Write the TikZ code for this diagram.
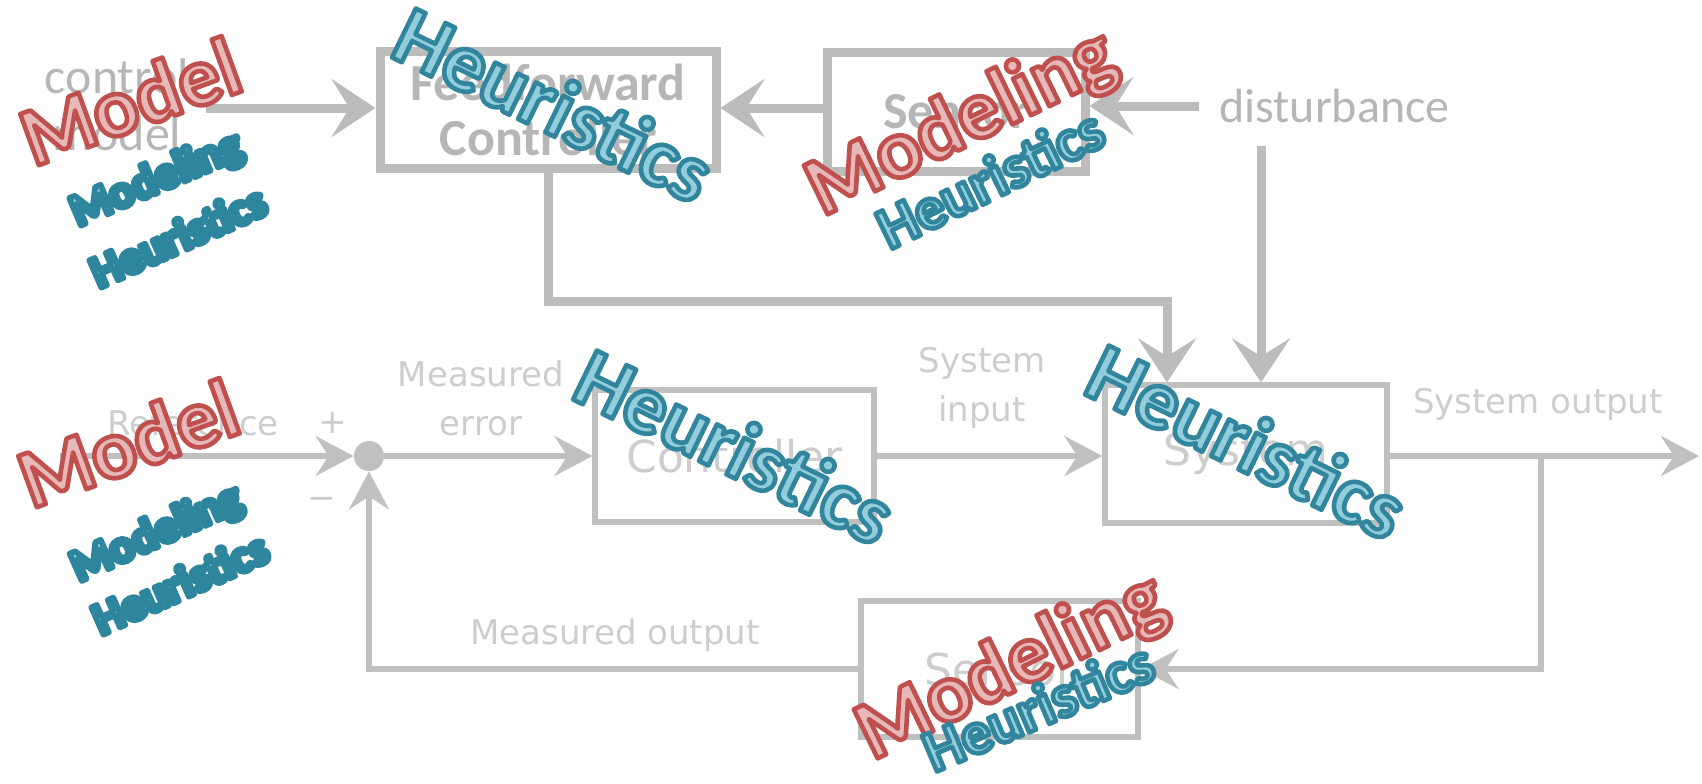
\documentclass[tikz,border=0pt]{standalone}
\usepackage{fontspec}
\setmainfont{Carlito}
\newfontfamily\dejavu{DejaVu Sans}
\usetikzlibrary{arrows.meta,positioning}
\definecolor{topgrey}{RGB}{188,188,188}
\definecolor{topfont}{RGB}{182,182,182}
\definecolor{botgrey}{RGB}{192,192,192}
\definecolor{botfont}{RGB}{205,205,205}
\definecolor{redfill}{RGB}{230,185,184}
\definecolor{tealfill}{RGB}{146,205,220}
\newcommand{\redword}[1]{\special{pdf:literal direct 2 Tr 2.3 w 1 j 0.753 0.314 0.302 RG}#1\special{pdf:literal direct 0 Tr}}
\newcommand{\tealword}[1]{\special{pdf:literal direct 2 Tr 2.3 w 1 j 0.192 0.522 0.612 RG}#1\special{pdf:literal direct 0 Tr}}
\newcommand{\tealsmall}[1]{\special{pdf:literal direct 2 Tr 2.9 w 1 j 0.180 0.525 0.620 RG}#1\special{pdf:literal direct 0 Tr}}
\tikzset{
  topbox/.style={draw=topgrey, line width=4.5pt, align=center, text=topfont,
    font=\fontsize{26}{27.5}\selectfont\bfseries},
  toptext/.style={text=topfont, align=center, inner sep=0pt,
    font=\fontsize{25}{28.5}\selectfont},
  toparrow/.style={draw=topgrey, line width=4.5pt,
    -{Stealth[length=22pt, width=29pt, inset=9pt]}},
  botbox/.style={draw=botgrey, line width=2.6pt, text=botfont,
    font=\dejavu\fontsize{22}{26}\selectfont},
  botlabel/.style={text=botfont, align=center, inner sep=0pt,
    font=\dejavu\fontsize{17}{24.5}\selectfont},
  botarrow/.style={draw=botgrey, line width=2.6pt,
    -{Stealth[length=19pt, width=20pt, inset=6.5pt]}},
  sumnode/.style={circle, fill=botgrey, minimum size=15pt, inner sep=0pt},
  ovlbig/.style={inner sep=0pt, font=\fontsize{42}{42}\selectfont\bfseries},
  ovlmid/.style={inner sep=0pt, font=\fontsize{30}{30}\selectfont\bfseries},
  ovlsmall/.style={inner sep=0pt, font=\fontsize{23}{23}\selectfont\bfseries}
}
\begin{document}
\begin{tikzpicture}[x=0.5pt, y=-0.5pt]
  \useasboundingbox (0,0) rectangle (1702,783);

  \node[topbox, minimum width=168pt, minimum height=58.5pt] (ff) at (548,109.5) {Feedforward\\Controller};
  \node[topbox, minimum width=129pt, minimum height=59.5pt] (sens) at (956,111.5) {Sensor};
  \node[toptext, anchor=base] (cm) at (117,150) {control\\model};
  \node[toptext, anchor=west, font=\fontsize{24}{28}\selectfont] (dist) at (1219,106) {disturbance};
  \coordinate (cmout) at (206,108);
  \coordinate (dtop) at (1261,146);
  \coordinate (ffturn) at (550,301);

  \node[botbox, minimum width=139.5pt, minimum height=66pt] (ctrl) at (734.5,456) {Controller};
  \node[botbox, minimum width=141pt, minimum height=69pt] (sysb) at (1246,454) {System};
  \node[botbox, minimum width=138.5pt, minimum height=68pt] (sens2) at (999.5,669) {Sensor};
  \node[sumnode] (sum) at (369,456) {};
  \coordinate (refin) at (60,456);
  \coordinate (sysout) at (1699,456);
  \coordinate (br) at (1541,456);

  \node[botlabel] (reflbl) at (193,423) {Reference};
  \node[botlabel] (plus) at (333,423) {+};
  \node[botlabel] (minus) at (322,503) {−};
  \node[botlabel] (errlbl) at (481,398) {Measured\\error};
  \node[botlabel] (inlbl) at (982,388) {System\\input};
  \node[botlabel] (outlbl) at (1538,404) {System output};
  \node[botlabel] (measlbl) at (615,635) {Measured output};

  \draw[toparrow] (cmout) -- (cmout -| ff.west);
  \draw[toparrow] (sens.west |- cmout) -- (ff.east |- cmout);
  \draw[toparrow] ([xshift=-10pt]dist.west) -- (sens.east |- dist.west);
  \draw[toparrow] (dtop) -- (dtop |- sysb.north);
  \draw[toparrow] (ff.south) -- (ff.south |- ffturn) -| ([xshift=-39.5pt]sysb.north);

  \draw[botarrow] (refin) -- (sum.west);
  \draw[botarrow] (sum.east) -- (ctrl.west);
  \draw[botarrow] (ctrl.east) -- (ctrl.east -| sysb.west);
  \draw[botarrow] (sysb.east |- sysout) -- (sysout);
  \draw[botarrow] (br) |- (sens2.east);
  \draw[botarrow] (sens2.west) -| (sum.south);

  \node[ovlbig, rotate=20, text=redfill] (mdltop) at (130,101) {\redword{Model}};
  \node[ovlsmall, rotate=23, text=tealfill] (mgtop) at (157,180) {\tealsmall{Modeling}};
  \node[ovlsmall, rotate=24, text=tealfill] (hrtop) at (178,236) {\tealsmall{Heuristics}};
  \node[ovlbig, rotate=-26, text=tealfill] (hrff) at (554,104) {\tealword{Heuristics}};
  \node[ovlbig, rotate=26, text=redfill] (mgsens) at (962,124) {\redword{Modeling}};
  \node[ovlmid, rotate=26, text=tealfill] (hrsens) at (990,178) {\tealword{Heuristics}};

  \node[ovlbig, rotate=20, text=redfill] (mdlbot) at (128,443) {\redword{Model}};
  \node[ovlsmall, rotate=24, text=tealfill] (mgbot) at (157,534) {\tealsmall{Modeling}};
  \node[ovlsmall, rotate=24, text=tealfill] (hrbot) at (180,583) {\tealsmall{Heuristics}};
  \node[ovlbig, rotate=-26, text=tealfill] (hrctrl) at (735,446) {\tealword{Heuristics}};
  \node[ovlbig, rotate=-26, text=tealfill] (hrsys) at (1247,441) {\tealword{Heuristics}};
  \node[ovlbig, rotate=26, text=redfill] (mgsens2) at (1012,668) {\redword{Modeling}};
  \node[ovlmid, rotate=23, text=tealfill] (hrsens2) at (1038,706) {\tealword{Heuristics}};
\end{tikzpicture}
\end{document}
